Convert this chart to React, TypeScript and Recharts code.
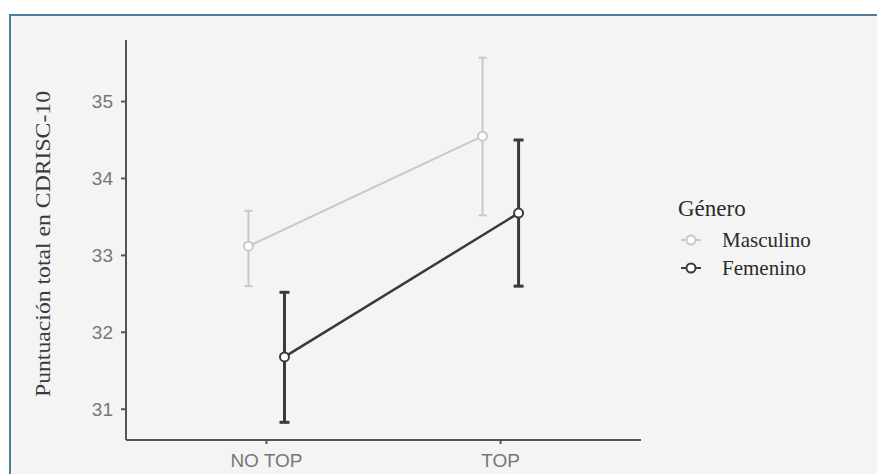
import { ErrorBar, Legend, Line, LineChart, XAxis, YAxis } from "recharts";

const categories = ["NO TOP", "TOP"];
const yTicks = [31, 32, 33, 34, 35];
const seriesNames = ["Masculino", "Femenino"];

const mascMean = [33.12, 34.55];
const mascLow = [32.6, 33.52];
const mascHigh = [33.58, 35.57];

const femMean = [31.68, 33.55];
const femLow = [30.83, 32.6];
const femHigh = [32.52, 34.5];

const MASC_COLOR = "#c8c8c8";
const FEM_COLOR = "#3a3a3a";
const DODGE = 0.077;

function buildSeries(mean: number[], low: number[], high: number[], shift: number) {
  return categories.map((name, i) => ({
    name,
    x: i + 1 + shift,
    y: mean[i],
    err: [mean[i] - low[i], high[i] - mean[i]],
  }));
}

const mascData = buildSeries(mascMean, mascLow, mascHigh, -DODGE);
const femData = buildSeries(femMean, femLow, femHigh, DODGE);

function LegendContent({ payload }: any) {
  const items = [...(payload ?? [])].sort(
    (a: any, b: any) => seriesNames.indexOf(a.value) - seriesNames.indexOf(b.value)
  );
  return (
    <div style={{ fontFamily: "'Liberation Serif', serif", color: "#2b2b2b", textAlign: "left" }}>
      <div style={{ fontSize: 23, lineHeight: "34px" }}>Género</div>
      {items.map((entry: any) => (
        <div key={entry.value} style={{ display: "flex", alignItems: "center", height: 28 }}>
          <svg width={44} height={14} style={{ flex: "none" }}>
            <line x1={3} y1={7} x2={23} y2={7} stroke={entry.color} strokeWidth={2} />
            <circle cx={13} cy={7} r={4.5} fill="#ffffff" stroke={entry.color} strokeWidth={2} />
          </svg>
          <span style={{ fontSize: 21 }}>{entry.value}</span>
        </div>
      ))}
    </div>
  );
}

function YLabel({ viewBox }: any) {
  const cx = (viewBox?.x ?? 0) + 37;
  const cy = (viewBox?.y ?? 0) + (viewBox?.height ?? 0) / 2 + 4;
  return (
    <text
      x={cx}
      y={cy}
      transform={`rotate(-90 ${cx} ${cy})`}
      textAnchor="middle"
      dominantBaseline="central"
      fontFamily="'Liberation Serif', serif"
      fontSize={21}
      fill="#3a3a3a"
      textLength={306}
      lengthAdjust="spacingAndGlyphs"
    >
      Puntuación total en CDRISC-10
    </text>
  );
}

export default function App() {
  return (
    <div
      style={{
        position: "absolute",
        left: 0,
        top: 0,
        width: 877,
        height: 474,
        overflow: "hidden",
        background: "#ffffff",
      }}
    >
      <div
        style={{
          position: "absolute",
          left: 9,
          top: 14,
          width: 900,
          height: 500,
          background: "#f4f4f4",
          borderTop: "2px solid #4f7c9b",
          borderLeft: "2px solid #4f7c9b",
        }}
      />
      <div style={{ position: "absolute", left: 0, top: 0 }}>
        <LineChart width={877} height={474} margin={{ top: 40, right: 236, bottom: 0, left: 6 }}>
          <XAxis
            dataKey="x"
            type="number"
            domain={[0.4, 2.6]}
            ticks={[1, 2]}
            allowDuplicatedCategory={false}
            tickFormatter={(v: number) => categories[Math.round(v) - 1] ?? ""}
            height={34}
            stroke="#555555"
            strokeWidth={2}
            tickSize={4}
            tickMargin={10}
            tick={{ fill: "#777777", fontSize: 19, fontFamily: "'Liberation Sans', Arial, sans-serif" }}
          />
          <YAxis
            type="number"
            domain={[30.6, 35.8]}
            ticks={yTicks}
            width={120}
            stroke="#555555"
            strokeWidth={2}
            tickSize={5}
            tickMargin={8}
            tick={{ fill: "#777777", fontSize: 19, fontFamily: "'Liberation Sans', Arial, sans-serif" }}
            label={{ content: YLabel }}
          />
          <Legend
            layout="horizontal"
            verticalAlign="middle"
            align="center"
            wrapperStyle={{ left: 678, top: 192, width: 180 }}
            content={LegendContent}
          />
          <Line
            data={mascData}
            dataKey="y"
            name="Masculino"
            stroke={MASC_COLOR}
            strokeWidth={2}
            dot={{ r: 4.5, fill: "#ffffff", stroke: MASC_COLOR, strokeWidth: 2 }}
            isAnimationActive={false}
          >
            <ErrorBar dataKey="err" direction="y" width={4} stroke={MASC_COLOR} strokeWidth={2} isAnimationActive={false} />
          </Line>
          <Line
            data={femData}
            dataKey="y"
            name="Femenino"
            stroke={FEM_COLOR}
            strokeWidth={2.5}
            dot={{ r: 4.5, fill: "#ffffff", stroke: FEM_COLOR, strokeWidth: 2 }}
            isAnimationActive={false}
          >
            <ErrorBar dataKey="err" direction="y" width={5} stroke={FEM_COLOR} strokeWidth={3} isAnimationActive={false} />
          </Line>
        </LineChart>
      </div>
    </div>
  );
}
